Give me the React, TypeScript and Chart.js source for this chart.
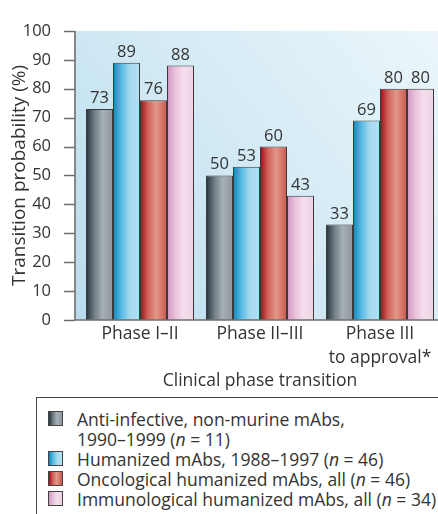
import React, { useEffect, useRef } from "react";
import { Chart, registerables } from "chart.js";

Chart.register(...registerables);

// ---------- data ----------
const categories: string[][] = [["Phase I–II"], ["Phase II–III"], ["Phase III", "to approval*"]];
const seriesNames = [
  "Anti-infective, non-murine mAbs,\n1990–1999",
  "Humanized mAbs, 1988–1997",
  "Oncological humanized mAbs, all",
  "Immunological humanized mAbs, all",
];
const seriesN = [11, 46, 46, 34];
const antiInfective = [73, 50, 33];
const humanized = [89, 53, 69];
const oncological = [76, 60, 80];
const immunological = [88, 43, 80];
const yMin = 0;
const yMax = 100;
const yStep = 10;
const yTitle = "Transition probability (%)";
const xTitle = "Clinical phase transition";

// ---------- style ----------
const FONT = "Open Sans";
const TEXT = "#333333";
const AXIS = "#6f6f6f";
const barStops: [number, string][][] = [
  [[0, "#27323a"], [0.3, "#6f7b83"], [0.62, "#a6b0b6"], [1, "#8c969c"]],
  [[0, "#0b86ba"], [0.3, "#55b9e1"], [0.62, "#a5d9f0"], [1, "#b4e1f3"]],
  [[0, "#9c0918"], [0.3, "#d1655a"], [0.6, "#e39788"], [1, "#c8594d"]],
  [[0, "#d195c1"], [0.3, "#e8c0da"], [0.62, "#f4dfec"], [1, "#eed1e3"]],
];
const cssGradient = (stops: [number, string][]) =>
  "linear-gradient(to right, " + stops.map(([p, c]) => `${c} ${p * 100}%`).join(", ") + ")";

const seriesValues = [antiInfective, humanized, oncological, immunological];

const bgPlugin = {
  id: "plotBg",
  beforeDatasetsDraw(chart: any) {
    const { ctx, chartArea: a } = chart;
    const x0 = a.left - 5;
    const g = ctx.createLinearGradient(x0, a.bottom, a.right, a.top);
    g.addColorStop(0, "#b8dcee");
    g.addColorStop(0.5, "#d3eaf5");
    g.addColorStop(1, "#ecf6fa");
    ctx.save();
    ctx.fillStyle = g;
    ctx.fillRect(x0, a.top, a.right - x0, a.bottom - a.top);
    ctx.restore();
    chart.data.datasets.forEach((ds: any, di: number) => {
      const meta = chart.getDatasetMeta(di);
      meta.data.forEach((el: any) => {
        const w = el.width;
        const gr = ctx.createLinearGradient(el.x - w / 2, 0, el.x + w / 2, 0);
        barStops[di].forEach(([p, c]) => gr.addColorStop(p, c));
        el.options = Object.assign({}, el.options, { backgroundColor: gr });
      });
    });
  },
};

const axesPlugin = {
  id: "axesAndLabels",
  afterDatasetsDraw(chart: any) {
    const { ctx, chartArea: a, scales } = chart;
    const y = scales.y;
    const x0 = a.left - 5;
    ctx.save();
    ctx.strokeStyle = AXIS;
    ctx.lineWidth = 1.6;
    ctx.beginPath();
    ctx.moveTo(x0, a.top);
    ctx.lineTo(x0, a.bottom);
    ctx.moveTo(x0, a.bottom);
    ctx.lineTo(a.right, a.bottom);
    y.ticks.forEach((t: any) => {
      const py = Math.round(y.getPixelForValue(t.value)) + 0.5;
      ctx.moveTo(x0 - 11, py);
      ctx.lineTo(x0, py);
    });
    ctx.stroke();
    ctx.fillStyle = TEXT;
    ctx.font = `16.5px "${FONT}"`;
    ctx.textAlign = "center";
    ctx.textBaseline = "alphabetic";
    chart.data.datasets.forEach((ds: any, di: number) => {
      const meta = chart.getDatasetMeta(di);
      meta.data.forEach((el: any, i: number) => {
        ctx.fillText(String(ds.data[i]), el.x, el.y - 6);
      });
    });
    ctx.restore();
  },
};

export default function App() {
  const ref = useRef<HTMLCanvasElement | null>(null);
  useEffect(() => {
    if (!ref.current) return;
    Chart.defaults.font.family = FONT;
    const chart = new Chart(ref.current, {
      type: "bar",
      data: {
        labels: categories as any,
        datasets: seriesValues.map((vals, i) => ({
          label: seriesNames[i].replace("\n", " "),
          data: vals,
          backgroundColor: barStops[i][2][1],
          borderColor: "#3a3a3a",
          borderWidth: 1,
          barPercentage: 1,
          categoryPercentage: 0.9,
        })),
      },
      options: {
        responsive: false,
        animation: false,
        layout: { padding: { top: 19, right: 2, left: 0, bottom: 0 } },
        plugins: { legend: { display: false }, tooltip: { enabled: false } },
        scales: {
          x: {
            grid: { display: false },
            border: { display: false },
            ticks: { font: { family: FONT, size: 17.5, lineHeight: "24px" }, color: TEXT, padding: -6, maxRotation: 0 },
            title: { display: true, text: xTitle, font: { family: FONT, size: 17.5, lineHeight: 1.2 }, color: TEXT, padding: { top: 0, bottom: 3 } },
            afterFit: (s: any) => { s.height = 75; },
          },
          y: {
            min: yMin,
            max: yMax,
            grid: { display: false },
            border: { display: false },
            ticks: { stepSize: yStep, font: { family: FONT, size: 16.5 }, color: TEXT, padding: 21 },
            title: { display: true, text: yTitle, font: { family: FONT, size: 19, lineHeight: 1.2 }, color: TEXT, padding: { top: 8, bottom: 0 } },
            afterFit: (s: any) => { s.width = 80; },
          },
        },
      },
      plugins: [bgPlugin, axesPlugin],
    });
    return () => chart.destroy();
  }, []);

  return (
    <div style={{ position: "absolute", left: 0, top: 0, width: 438, height: 514, overflow: "hidden", background: "#fff" }}>
      <canvas ref={ref} width={442} height={395} style={{ display: "block" }} />
      <div
        style={{
          position: "absolute", left: 36, top: 397, width: 440, height: 140,
          border: "1px solid #444", boxSizing: "border-box", paddingTop: 11,
          fontFamily: FONT, fontSize: 17.5, lineHeight: "20px", color: TEXT,
        }}
      >
        {seriesNames.map((name, i) => (
          <div key={i} style={{ position: "relative", paddingLeft: 40, whiteSpace: "pre-line" }}>
            <div
              style={{
                position: "absolute", left: 11, top: 2, width: 15, height: 15, boxSizing: "border-box",
                border: "1px solid #444", background: cssGradient(barStops[i]),
              }}
            />
            {name} (<i>n</i> = {seriesN[i]})
          </div>
        ))}
      </div>
    </div>
  );
}
